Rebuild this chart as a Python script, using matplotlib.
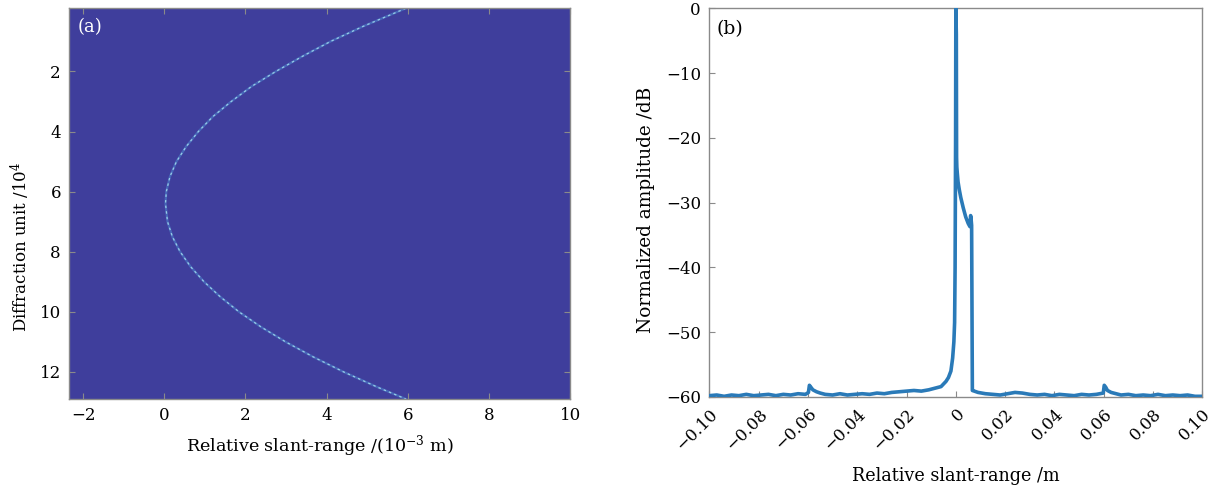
import matplotlib
matplotlib.use("Agg")
import matplotlib.pyplot as plt
import numpy as np

plt.rcParams['font.family'] = ['DejaVu Serif']
plt.rcParams['mathtext.fontset'] = 'dejavuserif'

# --- (a) range-migration curve --------------------------------------------
# diffraction unit (x10^4) and relative slant-range (x10^-3 m)
curve_y = [-0.1, 0.5, 1.0, 1.5, 2.0, 2.5, 3.0, 3.5, 4.0, 4.5, 5.0, 5.5, 6.0, 6.4,
           7.0, 7.5, 8.0, 8.5, 9.0, 9.5, 10.0, 10.5, 11.0, 11.5, 12.0, 12.5, 12.9]
curve_x = [5.95, 4.9, 4.1, 3.4, 2.75, 2.15, 1.65, 1.2, 0.84, 0.54, 0.3, 0.14, 0.05, 0.03,
           0.08, 0.2, 0.39, 0.65, 0.98, 1.38, 1.84, 2.38, 2.99, 3.67, 4.42, 5.24, 5.95]

# --- (b) range profile -----------------------------------------------------
prof_x = [-0.100, -0.097, -0.094, -0.091, -0.088, -0.085, -0.082, -0.079, -0.076,
          -0.073, -0.070, -0.067, -0.064, -0.061, -0.0598, -0.0594, -0.0588, -0.058,
          -0.0565, -0.055, -0.053, -0.050, -0.047, -0.044, -0.041, -0.038, -0.035,
          -0.032, -0.029, -0.026, -0.023, -0.020, -0.017, -0.014, -0.011, -0.008,
          -0.006, -0.005, -0.004, -0.003, -0.002, -0.0013, -0.0008, -0.0005,
          -0.0003, -0.0001, 0.0, 0.0002, 0.0003, 0.0004, 0.0006, 0.0009, 0.0014,
          0.002, 0.003, 0.004, 0.005, 0.0057, 0.0060, 0.0062, 0.0064, 0.0067,
          0.0075, 0.009, 0.012, 0.015, 0.018, 0.021, 0.024, 0.027, 0.030, 0.033,
          0.036, 0.039, 0.042, 0.045, 0.048, 0.051, 0.054, 0.057, 0.0598, 0.0602,
          0.0608, 0.0615, 0.063, 0.065, 0.067, 0.070, 0.073, 0.076, 0.079, 0.082,
          0.085, 0.088, 0.091, 0.094, 0.097, 0.100]
prof_db = [-59.8, -59.7, -59.9, -59.7, -59.8, -59.6, -59.8, -59.7, -59.6,
           -59.8, -59.6, -59.7, -59.5, -59.6, -59.3, -58.2, -58.5, -58.9,
           -59.2, -59.4, -59.6, -59.7, -59.5, -59.7, -59.6, -59.5, -59.6,
           -59.4, -59.5, -59.3, -59.2, -59.1, -59.0, -59.1, -58.9, -58.6,
           -58.4, -58.0, -57.6, -57.0, -56.0, -54.0, -51.5, -48.5,
           -40.0, -20.0, 0.0, -4.0, -23.0, -24.5, -25.5, -26.8, -28.0,
           -29.2, -30.8, -32.2, -33.2, -33.7, -32.0, -32.6, -33.5, -59.0,
           -59.1, -59.3, -59.5, -59.6, -59.7, -59.5, -59.3, -59.4, -59.6, -59.7,
           -59.6, -59.8, -59.6, -59.7, -59.8, -59.6, -59.7, -59.6, -59.4, -58.2,
           -58.5, -59.0, -59.3, -59.5, -59.7, -59.6, -59.8, -59.7, -59.8, -59.6,
           -59.8, -59.7, -59.8, -59.7, -59.9, -59.9]

xticks_a = [-2, 0, 2, 4, 6, 8, 10]
yticks_a = [2, 4, 6, 8, 10, 12]
xticks_b = [-0.10, -0.08, -0.06, -0.04, -0.02, 0, 0.02, 0.04, 0.06, 0.08, 0.10]
xticklabels_b = ["\u22120.10", "\u22120.08", "\u22120.06", "\u22120.04", "\u22120.02", "0",
                 "0.02", "0.04", "0.06", "0.08", "0.10"]
yticks_b = [0, -10, -20, -30, -40, -50, -60]

fig = plt.figure(figsize=(12.15, 4.87), dpi=100)
ax1 = fig.add_axes([0.0570, 0.1807, 0.4124, 0.8023])
ax2 = fig.add_axes([0.5838, 0.1849, 0.4058, 0.7980])

spine_c = "#8a8a8a"
fs = 12

# --- panel (a) ---
ax1.set_facecolor("#3f3e9c")
ax1.plot(curve_x, curve_y, color="#4f8fd6", lw=1.6, alpha=0.5)
ax1.plot(curve_x, curve_y, color="#a6e0ee", lw=0.9, dashes=(2, 2.5), alpha=0.85)
ax1.set_xlim(-2.34, 10)
ax1.set_ylim(12.9, -0.1)
ax1.set_xticks(xticks_a)
ax1.set_yticks(yticks_a)
ax1.set_xlabel("Relative slant-range /(10$^{-3}$ m)", fontsize=12.6, labelpad=6)
ax1.set_ylabel("Diffraction unit /10$^{4}$", fontsize=12)
ax1.yaxis.set_label_coords(-0.075, 0.39)
ax1.text(0.017, 0.975, "(a)", transform=ax1.transAxes, color="white",
         fontsize=13, ha="left", va="top")

# --- panel (b) ---
ax2.plot(prof_x, prof_db, color="#2a7ab8", lw=2.6, zorder=3)
ax2.set_xlim(-0.1, 0.1)
ax2.set_ylim(-60, 0)
ax2.set_xticks(xticks_b)
ax2.set_xticklabels(xticklabels_b, rotation=45, ha="right", va="top",
                    rotation_mode="anchor")
ax2.set_yticks(yticks_b)
ax2.set_xlabel("Relative slant-range /m", fontsize=12.7, labelpad=10)
ax2.set_ylabel("Normalized amplitude /dB", fontsize=13.3)
ax2.yaxis.set_label_coords(-0.11, 0.481)
ax2.text(0.014, 0.97, "(b)", transform=ax2.transAxes, color="black",
         fontsize=13.5, ha="left", va="top")

for ax in (ax1, ax2):
    for s in ax.spines.values():
        s.set_color(spine_c)
        s.set_linewidth(1.0)
ax1.tick_params(direction="in", top=True, right=True, length=4,
                color=spine_c, labelsize=fs, pad=6)
ax2.tick_params(direction="in", top=False, right=False, length=4,
                color=spine_c, labelsize=fs, pad=6)

fig.savefig("out.png", dpi=100)
